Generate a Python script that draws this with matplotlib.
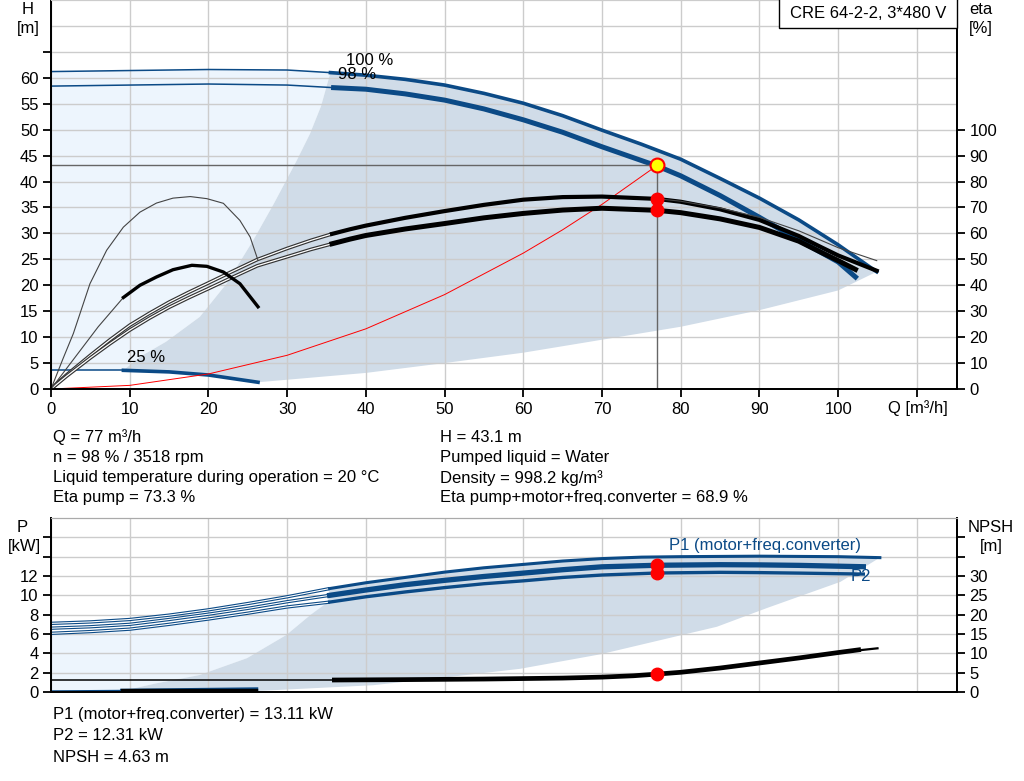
import matplotlib
matplotlib.use('Agg')
import matplotlib.pyplot as plt
from matplotlib.patches import Rectangle

plt.rcParams['font.family'] = ['Liberation Sans', 'DejaVu Sans']
plt.rcParams['font.size'] = 12

# head curves [m]
q_h100 = [0, 10, 20, 30, 35.5, 40, 45, 50, 55, 60, 65, 70, 75, 80, 85, 90, 95, 100, 104.9]
h100 = [61.2, 61.4, 61.6, 61.5, 61.0, 60.5, 59.7, 58.6, 57.0, 55.1, 52.7, 49.9, 47.2,
        44.3, 40.6, 36.8, 32.6, 27.8, 22.6]
q_h98 = [0, 10, 20, 30, 35.9, 40, 45, 50, 55, 60, 65, 70, 77, 80, 85, 90, 95, 100, 102.2]
h98 = [58.4, 58.6, 58.8, 58.6, 58.1, 57.8, 56.9, 55.7, 54.0, 51.9, 49.5, 46.7, 43.0,
       41.1, 37.3, 33.1, 28.7, 24.5, 21.6]
q_h25 = [0, 9.2, 15, 20, 26.3]
h25 = [3.6, 3.6, 3.3, 2.7, 1.3]

# operating range borders [m]
q_left = [9.2, 11.3, 14.6, 18.9, 22.3, 25.7, 28.3, 31.2, 32.9, 34.3, 35.5]
h_left = [3.6, 6.2, 9.1, 13.9, 20.3, 28.7, 35.7, 44.0, 49.2, 54.5, 61.0]
q_low = [26.3, 40, 50, 60, 70, 80, 90, 100, 104.9]
h_low = [1.3, 3.1, 5.0, 7.0, 9.5, 12.0, 15.2, 19.0, 22.6]

# system curve
q_sys = [0, 10, 20, 30, 40, 50, 60, 65, 70, 77]
h_sys = [0, 0.7, 2.9, 6.5, 11.6, 18.2, 26.2, 30.7, 35.6, 43.1]

# efficiencies [%]
q_eta_lo = [0, 2, 5, 7.5, 10, 12.5, 15, 17.5, 20, 23, 26.2, 30, 33, 35.7]
etap_lo = [0, 5.5, 13, 19, 24.6, 29.2, 33.5, 37.3, 40.9, 45.3, 49.9, 54.2, 57.3, 59.8]
etat_lo = [0, 5, 12, 17.5, 22.7, 27.3, 31.5, 35.2, 38.7, 43.0, 47.5, 51.0, 53.8, 56.0]
q_etap = [35.7, 38, 40, 45, 50, 55, 60, 65, 70, 77, 80, 85, 90, 95, 97.7, 100, 104.9]
etap = [59.8, 61.6, 63.0, 66.0, 68.6, 71.0, 73.0, 74.0, 74.2, 73.3, 72.2, 69.3, 65.2,
        59.0, 54.9, 51.5, 45.6]
q_etat = [35.7, 38, 40, 45, 50, 55, 60, 65, 70, 77, 80, 85, 90, 95, 97.7, 100, 102.2]
etat = [56.0, 57.8, 59.2, 61.7, 63.8, 66.0, 67.7, 69.0, 69.7, 68.9, 68.0, 65.6, 62.3,
        57.0, 52.9, 49.5, 46.1]
q_etap100 = [77, 80, 85, 90, 95, 97.7, 100, 104.9]
etap100 = [73.4, 72.4, 69.8, 66.2, 61.0, 57.5, 54.5, 49.5]
q_eta25p = [0, 1.5, 2.84, 4.95, 7.07, 9.19, 11.3, 13.4, 15.5, 17.7, 19.8, 21.9, 24.0, 25.3, 26.3]
eta25p = [0, 11.5, 21.4, 40.6, 53.5, 62.4, 68.2, 71.7, 73.6, 74.2, 73.4, 71.6, 65.0, 58.6, 49.6]
q_eta25t_lo = [0, 3, 6, 9.2]
eta25t_lo = [0, 12, 24, 35.3]
q_eta25t = [9.2, 11.3, 13.4, 15.5, 17.9, 19.8, 21.9, 24.0, 26.3]
eta25t = [35.3, 40.0, 43.2, 46.0, 47.7, 47.3, 45.1, 40.6, 31.7]

# power [kW]
q_p1max = [0, 5, 10, 15, 20, 25, 30, 35.4, 40, 45, 50, 55, 60, 65, 70, 75, 80, 90, 100, 105.3]
p1max = [7.1, 7.25, 7.5, 7.95, 8.5, 9.15, 9.85, 10.7, 11.3, 11.85, 12.4, 12.85, 13.2,
         13.55, 13.8, 13.95, 14.0, 14.05, 14.0, 13.9]
q_p = [0, 5, 10, 15, 20, 25, 30, 35.4, 40, 45, 50, 55, 60, 65, 70, 77, 85, 90, 95, 103.2]
p1 = [6.6, 6.75, 7.0, 7.5, 8.05, 8.65, 9.34, 10.0, 10.55, 11.1, 11.55, 11.95, 12.3,
      12.65, 12.95, 13.11, 13.17, 13.15, 13.1, 12.96]
p2 = [6.07, 6.25, 6.5, 7.0, 7.55, 8.15, 8.8, 9.3, 9.85, 10.35, 10.8, 11.2, 11.5,
      11.85, 12.1, 12.31, 12.38, 12.35, 12.3, 12.2]
q_p25 = [0, 9, 26.1]
p25 = [0.1, 0.15, 0.3]
q_pleft = [9, 13.4, 18.9, 24.9, 29.9, 33, 35.2, 35.4]
p_left = [0.1, 0.9, 1.76, 3.5, 5.9, 8.0, 9.3, 10.7]
q_plow = [9, 26.1, 40.9, 50, 59.6, 69.8, 84.6, 91, 100.3, 105.3]
p_low = [0.05, 0.1, 0.7, 1.5, 2.4, 3.9, 6.75, 8.7, 11.4, 13.9]

# NPSH [m]
q_npsh = [36, 45, 55, 65, 70, 74, 77, 80, 85, 90, 95, 100, 102.6]
npsh = [3.1, 3.2, 3.35, 3.6, 3.85, 4.2, 4.63, 5.1, 6.2, 7.5, 8.8, 10.2, 10.9]
q_npsh_ext = [100, 105]
npsh_ext = [10.2, 11.3]
q_npsh25 = [9, 26.1]
npsh25 = [0.6, 0.6]

# duty point
q_duty = 77
h_duty = 43.1
eta_pump = 73.3
eta_tot = 68.9
p1_duty = 13.11
p2_duty = 12.31
npsh_duty = 4.63

BLUE = '#0b4a86'
LIGHT = '#edf5fd'
DARK = '#d0dce8'
GRID = '#cccccc'

W, H = 1024, 781
fig = plt.figure(figsize=(W / 100, H / 100), dpi=100)

ax = fig.add_axes([51 / W, (H - 389) / H, 906 / W, 389 / H])
ax.set_xlim(0, 115.1)
ax.set_ylim(0, 75)

# fills
lx = q_h100[:5] + q_left[::-1] + [0]
ly = h100[:5] + h_left[::-1] + [h25[0]]
ax.fill(lx, ly, color=LIGHT, lw=0)
dx = q_left + q_h100[4:] + q_low[::-1] + q_h25[::-1][:3]
dy = h_left + h100[4:] + h_low[::-1] + h25[::-1][:3]
ax.fill(dx, dy, color=DARK, lw=0)

# head curves
ax.plot(q_h100[:5], h100[:5], color=BLUE, lw=1.1)
ax.plot(q_h100[4:], h100[4:], color=BLUE, lw=2.6)
ax.plot(q_h98[:5], h98[:5], color=BLUE, lw=1.1)
ax.plot(q_h98[4:], h98[4:], color=BLUE, lw=3.6)
ax.plot(q_h25[:2], h25[:2], color=BLUE, lw=1.1)
ax.plot(q_h25[1:], h25[1:], color=BLUE, lw=2.6)

ax.plot(q_sys, h_sys, color='red', lw=0.7)
ax.plot([0, q_duty], [h_duty, h_duty], color='#666666', lw=1)
ax.plot([q_duty, q_duty], [0, h_duty], color='#666666', lw=1)

ax.text(37.5, 63.4, '100 %', va='center')
ax.text(36.5, 60.7, '98 %', va='center')
ax.text(9.6, 6.0, '25 %', va='center')

ax.set_xticks(range(0, 120, 10))
ax.set_xticklabels([str(v) for v in range(0, 110, 10)] + [''])
ax.set_yticks(range(0, 70, 5))
ax.set_yticklabels([str(v) for v in range(0, 65, 5)] + [''])
ax.axhline(70, color=GRID, lw=1, zorder=1.5)
ax.grid(True, color=GRID, lw=1)
ax.tick_params(direction='out', length=6, width=1.3, pad=3)

# efficiency axis
ax2 = ax.twinx()
ax2.set_ylim(0, 150)
ax2.set_yticks(range(0, 110, 10))
ax2.tick_params(direction='out', length=6, width=1.3, pad=3)


def double_line(a, x, y, color, outer=2.6, inner=0.9):
    a.plot(x, y, color=color, lw=outer, solid_capstyle='butt')
    a.plot(x, y, color='white', lw=inner, solid_capstyle='butt')


double_line(ax2, q_eta_lo, etap_lo, '#333333')
double_line(ax2, q_eta_lo, etat_lo, '#333333')
ax2.plot(q_etap, etap, color='black', lw=3)
ax2.plot(q_etat, etat, color='black', lw=3.6)
ax2.plot(q_etap100, etap100, color='#444444', lw=0.8)
ax2.plot(q_eta25p, eta25p, color='#444444', lw=0.8)
ax2.plot(q_eta25t_lo, eta25t_lo, color='#444444', lw=0.8)
ax2.plot(q_eta25t, eta25t, color='black', lw=2.4)

ax2.plot([q_duty, q_duty], [eta_pump, eta_tot], 'o', color='red', ms=9, zorder=5)
ax.plot([q_duty], [h_duty], 'o', color='#ffff00', mec='red', mew=1.5, ms=10, zorder=5)

for a in (ax, ax2):
    a.spines['top'].set_color(GRID)
    for s in ('left', 'right', 'bottom'):
        a.spines[s].set_linewidth(1.3)

# model box
fig.patches.append(Rectangle((779 / W, (H - 28) / H), 178 / W, 30 / H,
                             transform=fig.transFigure, facecolor='white',
                             edgecolor='black', lw=1, zorder=10))
fig.text(868 / W, (H - 14) / H, 'CRE 64-2-2, 3*480 V', ha='center', va='center',
         zorder=11)

fig.text(28 / W, (H - 9) / H, 'H', ha='center', va='center')
fig.text(28 / W, (H - 29) / H, '[m]', ha='center', va='center')
fig.text(981 / W, (H - 9) / H, 'eta', ha='center', va='center')
fig.text(981 / W, (H - 29) / H, '[%]', ha='center', va='center')
fig.text(888 / W, (H - 408) / H, 'Q [m³/h]', va='center')

left_info = ['Q = 77 m³/h', 'n = 98 % / 3518 rpm',
             'Liquid temperature during operation = 20 °C', 'Eta pump = 73.3 %']
right_info = ['H = 43.1 m', 'Pumped liquid = Water',
              'Density = 998.2 kg/m³', 'Eta pump+motor+freq.converter = 68.9 %']
for i, (l, r) in enumerate(zip(left_info, right_info)):
    y = (H - 437 - i * 20.3) / H
    fig.text(53 / W, y, l, va='center')
    fig.text(440 / W, y, r, va='center')

# ---- power / NPSH panel ----
bx = fig.add_axes([51 / W, (H - 692) / H, 906 / W, 174 / H])
bx.set_xlim(0, 115.1)
bx.set_ylim(0, 18)

lpx = [0] + q_p[:8] + q_pleft[::-1][2:] + [0]
lpy = [0] + p2[:8] + p_left[::-1][2:] + [0]
bx.fill(lpx, lpy, color=LIGHT, lw=0)
dpx = q_pleft + q_p1max[7:] + q_plow[::-1]
dpy = p_left + p1max[7:] + p_low[::-1]
bx.fill(dpx, dpy, color=DARK, lw=0)

double_line(bx, q_p1max[:8], p1max[:8], BLUE, 2.4, 0.8)
double_line(bx, q_p[:8], p1[:8], BLUE, 2.4, 0.8)
double_line(bx, q_p[:8], p2[:8], BLUE, 2.4, 0.8)
bx.plot(q_p1max[7:], p1max[7:], color=BLUE, lw=2.2)
bx.plot(q_p[7:], p1[7:], color=BLUE, lw=3.8)
bx.plot(q_p[7:], p2[7:], color=BLUE, lw=2.4)
bx.plot(q_p25[:2], p25[:2], color=BLUE, lw=1.1)
bx.plot(q_p25[1:], p25[1:], color=BLUE, lw=2.6)
bx.plot([q_duty, q_duty], [p1_duty, p2_duty], 'o', color='red', ms=9, zorder=5)

bx.text(78.5, 15.2, 'P1 (motor+freq.converter)', color=BLUE, va='center')
bx.text(101.6, 11.9, 'P2', color=BLUE, va='center')

bx.set_xticks(range(0, 120, 10))
bx.set_xticklabels([])
bx.tick_params(axis='x', length=0)
bx.set_yticks(range(0, 18, 2))
bx.set_yticklabels([str(v) for v in range(0, 14, 2)] + ['', ''])
bx.grid(True, color=GRID, lw=1)
bx.tick_params(axis='y', direction='out', length=6, width=1.3, pad=3)

bx2 = bx.twinx()
bx2.set_ylim(0, 45)
bx2.set_yticks(range(0, 45, 5))
bx2.set_yticklabels([str(v) for v in range(0, 35, 5)] + ['', ''])
bx2.tick_params(direction='out', length=6, width=1.3, pad=3)
bx2.plot([0, q_npsh[0]], [npsh[0], npsh[0]], color='black', lw=1.1)
bx2.plot(q_npsh, npsh, color='black', lw=3.4)
bx2.plot(q_npsh_ext, npsh_ext, color='black', lw=1.6)
bx2.plot(q_npsh25, npsh25, color='black', lw=2.4)
bx2.plot([q_duty], [npsh_duty], 'o', color='red', ms=9, zorder=5)

for a in (bx, bx2):
    a.spines['top'].set_color('#aaaaaa')
    for s in ('left', 'right', 'bottom'):
        a.spines[s].set_linewidth(1.3)

fig.text(22 / W, (H - 527) / H, 'P', ha='center', va='center')
fig.text(24 / W, (H - 547) / H, '[kW]', ha='center', va='center')
fig.text(991 / W, (H - 527) / H, 'NPSH', ha='center', va='center')
fig.text(991 / W, (H - 547) / H, '[m]', ha='center', va='center')

bottom_info = ['P1 (motor+freq.converter) = 13.11 kW', 'P2 = 12.31 kW', 'NPSH = 4.63 m']
for i, t in enumerate(bottom_info):
    fig.text(53 / W, (H - 714 - i * 21.5) / H, t, va='center')

fig.savefig('out.png', dpi=100)
